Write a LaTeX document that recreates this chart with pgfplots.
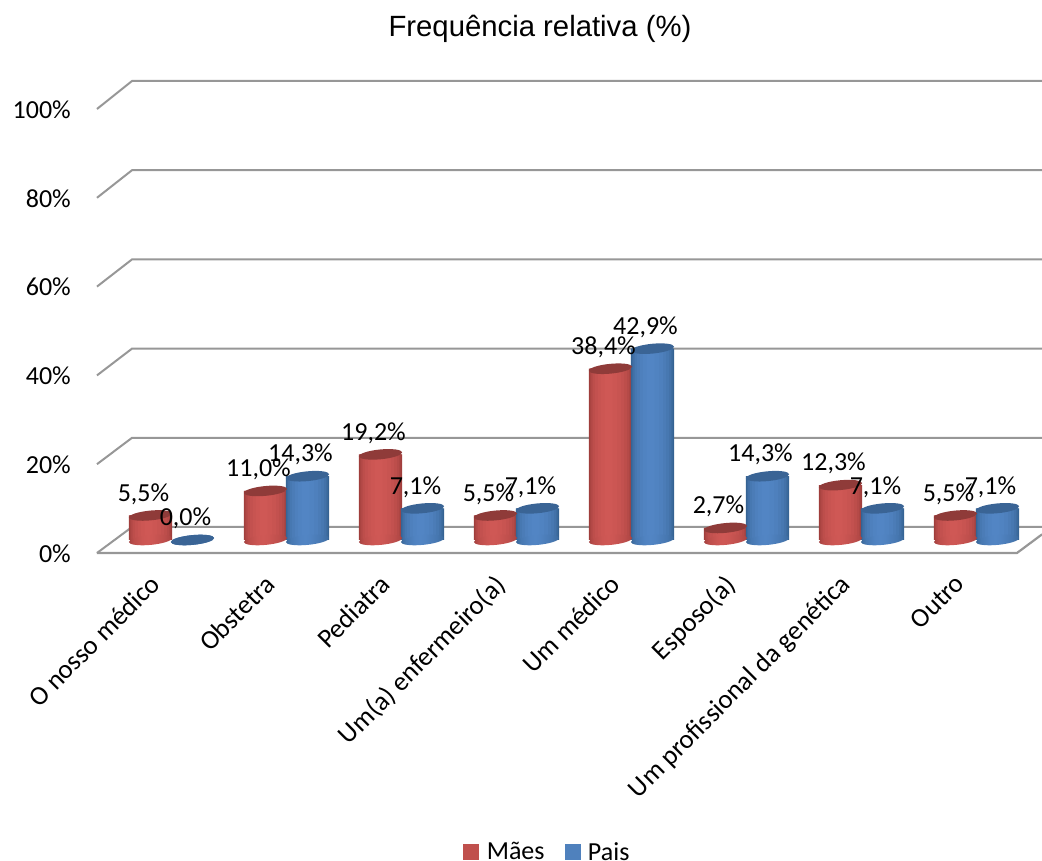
\documentclass[border=0pt]{standalone}
\usepackage{pgfplots}
\usepackage{pgfplotstable}
\pgfplotsset{compat=1.18}
\usepackage{fontspec}
\setmainfont{Carlito}
\newfontfamily\titlefont{Liberation Sans}
\definecolor{redMid}{HTML}{CF5855}
\definecolor{redEdge}{HTML}{9C3C3A}
\definecolor{redTop}{HTML}{8F3B39}
\definecolor{blueMid}{HTML}{5285C4}
\definecolor{blueEdge}{HTML}{33608F}
\definecolor{blueTop}{HTML}{3A6495}
\definecolor{wallGray}{HTML}{979797}
\definecolor{keyRed}{HTML}{C0504D}
\definecolor{keyBlue}{HTML}{4F81BD}

% Share of answers per category, mothers and fathers
\pgfplotstableread{
x maes pais
0 5.5  0.0
1 11.0 14.3
2 19.2 7.1
3 5.5  7.1
4 38.4 42.9
5 2.7  14.3
6 12.3 7.1
7 5.5  7.1
}\shares

% Wall and floor outline: front edge, back edge, right end
\pgfplotstableread{
x y
-0.648 0
-0.343 5.86
7.570 5.86
}\gridzero
\pgfplotstableread{
x y
-0.648 20
-0.343 25.95
7.570 25.95
}\gridtwenty
\pgfplotstableread{
x y
-0.648 40
-0.343 46.04
7.570 46.04
}\gridforty
\pgfplotstableread{
x y
-0.648 60
-0.343 66.13
7.570 66.13
}\gridsixty
\pgfplotstableread{
x y
-0.648 80
-0.343 86.22
7.570 86.22
}\grideighty
\pgfplotstableread{
x y
-0.648 100
-0.343 106.31
7.570 106.31
}\gridhundred
\pgfplotstableread{
x y
-0.648 0
7.352 0
7.570 4.2
}\floorfront

% Horizontal shadings for the cylinder bases, same ramp as the nested body layers
\pgfdeclarehorizontalshading{redcyl}{100bp}{color(0bp)=(redEdge); color(25bp)=(redEdge); color(27bp)=(redMid!34!redEdge); color(31bp)=(redMid!64!redEdge); color(41bp)=(redMid!94!redEdge); color(47bp)=(redMid); color(53bp)=(redMid!94!redEdge); color(66bp)=(redMid!64!redEdge); color(73bp)=(redMid!34!redEdge); color(75bp)=(redEdge); color(100bp)=(redEdge)}
\pgfdeclarehorizontalshading{bluecyl}{100bp}{color(0bp)=(blueEdge); color(25bp)=(blueEdge); color(27bp)=(blueMid!34!blueEdge); color(31bp)=(blueMid!64!blueEdge); color(41bp)=(blueMid!94!blueEdge); color(47bp)=(blueMid); color(53bp)=(blueMid!94!blueEdge); color(66bp)=(blueMid!64!blueEdge); color(73bp)=(blueMid!34!blueEdge); color(75bp)=(blueEdge); color(100bp)=(blueEdge)}

% Cylinder caps: a tilted ellipse, flat for the top and shaded for the base
\pgfdeclareplotmark{captopred}{\pgftransformrotate{5.5}\pgfsetfillcolor{redTop}\pgfpathellipse{\pgfpointorigin}{\pgfqpoint{21.7pt}{0pt}}{\pgfqpoint{0pt}{4.9pt}}\pgfusepathqfill}
\pgfdeclareplotmark{captopblue}{\pgftransformrotate{5.5}\pgfsetfillcolor{blueTop}\pgfpathellipse{\pgfpointorigin}{\pgfqpoint{21.7pt}{0pt}}{\pgfqpoint{0pt}{4.9pt}}\pgfusepathqfill}
\pgfdeclareplotmark{capbasered}{\pgftransformrotate{5.5}\pgfpathellipse{\pgfpointorigin}{\pgfqpoint{21.7pt}{0pt}}{\pgfqpoint{0pt}{4.9pt}}\pgfshadepath{redcyl}{0}\pgfusepath{discard}}
\pgfdeclareplotmark{capbaseblue}{\pgftransformrotate{5.5}\pgfpathellipse{\pgfpointorigin}{\pgfqpoint{21.7pt}{0pt}}{\pgfqpoint{0pt}{4.9pt}}\pgfshadepath{bluecyl}{0}\pgfusepath{discard}}

% One layer of a cylinder body: column, x offset, colour pair, width, mix, highlight shift
\newcommand{\bodylayer}[6]{%
  \addplot[draw=none, fill=#3Mid!#5!#3Edge, bar width=#4pt, bar shift=#6pt, forget plot, restrict y to domain=0.05:100]
    table[x expr=\thisrow{x}+#2, y=#1] {\shares};}
% Nested layers give the rounded look of the body
\newcommand{\cylbody}[3]{%
  \bodylayer{#1}{#2}{#3}{43.4}{0}{0}
  \bodylayer{#1}{#2}{#3}{42}{18}{0}
  \bodylayer{#1}{#2}{#3}{40}{34}{-0.2}
  \bodylayer{#1}{#2}{#3}{37.5}{50}{-0.4}
  \bodylayer{#1}{#2}{#3}{34}{64}{-0.6}
  \bodylayer{#1}{#2}{#3}{29}{76}{-0.9}
  \bodylayer{#1}{#2}{#3}{23}{86}{-1.2}
  \bodylayer{#1}{#2}{#3}{16}{94}{-1.5}
  \bodylayer{#1}{#2}{#3}{8}{100}{-1.8}
}

\begin{document}
\begin{tikzpicture}[x=1pt,y=1pt]
\path[use as bounding box] (0,0) rectangle (1042,861);

% Frame: walls, floor, value and category labels
\begin{axis}[
  at={(97pt,308pt)}, anchor=south west,
  scale only axis, width=920pt, height=444pt,
  xmin=-0.6478, xmax=7.3522, ymin=0, ymax=100,
  clip=false,
  axis line style={draw=none},
  major tick length=0pt,
  xtick={0,1,2,3,4,5,6,7},
  xticklabels={O nosso médico,Obstetra,Pediatra,Um(a) enfermeiro(a),Um médico,Esposo(a),Um profissional da genética,Outro},
  xticklabel style={rotate=45, anchor=north east, font=\fontsize{26.8}{30}\selectfont, xshift=-30pt, yshift=2.3pt, inner sep=0pt},
  ytick={0,20,40,60,80,100},
  yticklabels={0\%,20\%,40\%,60\%,80\%,100\%},
  yticklabel style={font=\fontsize{26}{30}\selectfont, xshift=-26pt, yshift=-0.5pt, inner sep=0pt},
  title={Frequência relativa (\%)},
  title style={at={(0.4815,1.1667)}, anchor=center, font=\titlefont\fontsize{29.3}{34}\selectfont},
]
\addplot[wallGray, line width=2pt, line join=miter] table {\gridhundred};
\addplot[wallGray, line width=2pt, line join=miter] table {\grideighty};
\addplot[wallGray, line width=2pt, line join=miter] table {\gridsixty};
\addplot[wallGray, line width=2pt, line join=miter] table {\gridforty};
\addplot[wallGray, line width=2pt, line join=miter] table {\gridtwenty};
\addplot[wallGray, line width=2pt, line join=miter] table {\gridzero};
\addplot[wallGray, line width=2.2pt, line join=miter] table {\floorfront};
\end{axis}

% Cylinders, raised to the middle of the floor
\begin{axis}[
  at={(97pt,321pt)}, anchor=south west,
  scale only axis, width=920pt, height=446pt,
  xmin=-0.6478, xmax=7.3522, ymin=0, ymax=100,
  clip=false,
  hide axis,
  ybar, bar width=43.4pt, bar shift=0pt,
  legend style={at={(0.4885,-0.6995)}, anchor=center, draw=none, fill=none, legend columns=2,
    font=\fontsize{26}{30}\selectfont, inner sep=0pt, nodes={inner sep=0pt},
    /tikz/every odd column/.append style={column sep=8pt},
    /tikz/every even column/.append style={column sep=20pt}},
  legend image code/.code={\fill[#1] (0pt,-7.5pt) rectangle (15pt,7.5pt);},
  /pgf/number format/.cd, fixed, fixed zerofill, precision=1, use comma, assume math mode=true,
]
\addlegendimage{keyRed}
\addlegendentry{Mães}
\addlegendimage{keyBlue}
\addlegendentry{Pais}

% mothers
\addplot[only marks, mark=capbasered, forget plot] table[x expr=\thisrow{x}-0.1826, y expr=0*\thisrow{maes}] {\shares};
\cylbody{maes}{-0.1826}{red}
\addplot[only marks, mark=captopred, forget plot] table[x expr=\thisrow{x}-0.1826, y=maes] {\shares};

% fathers
\addplot[only marks, mark=capbaseblue, forget plot] table[x expr=\thisrow{x}+0.1826, y expr=0*\thisrow{pais}] {\shares};
\cylbody{pais}{+0.1826}{blue}
\addplot[only marks, mark=captopblue, forget plot] table[x expr=\thisrow{x}+0.1826, y=pais] {\shares};

% value labels above the caps
\addplot[draw=none, mark=none, forget plot, fill=none, point meta=y,
  nodes near coords={\pgfmathprintnumber{\pgfplotspointmeta}\%},
  every node near coord/.append style={anchor=center, xshift=-7pt, yshift=21.5pt, font=\fontsize{26}{30}\selectfont, inner sep=0pt}]
  table[x expr=\thisrow{x}-0.1826, y=maes] {\shares};
\addplot[draw=none, mark=none, forget plot, fill=none, point meta=y,
  nodes near coords={\pgfmathprintnumber{\pgfplotspointmeta}\%},
  every node near coord/.append style={anchor=center, xshift=-7pt, yshift=21.5pt, font=\fontsize{26}{30}\selectfont, inner sep=0pt}]
  table[x expr=\thisrow{x}+0.1826, y=pais] {\shares};
\end{axis}
\end{tikzpicture}
\end{document}
